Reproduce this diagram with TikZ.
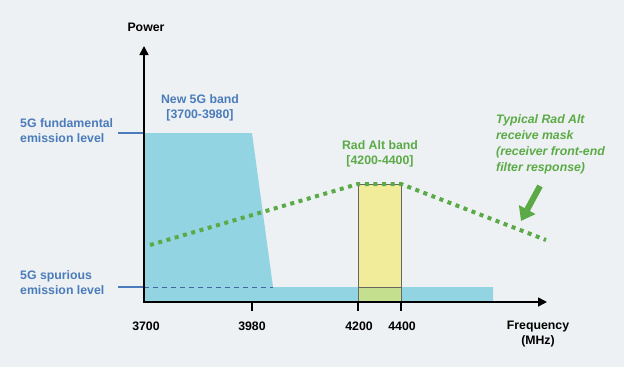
\documentclass[tikz,border=0pt]{standalone}
\usepackage{fontspec}
\setmainfont{Liberation Sans}
\usetikzlibrary{arrows.meta}
\definecolor{bggray}{HTML}{EEF1F3}
\definecolor{bandblue}{HTML}{93D4E3}
\definecolor{radyellow}{HTML}{F0EC9A}
\definecolor{overlapgreen}{HTML}{C4E08F}
\definecolor{labelblue}{HTML}{4A7BBA}
\definecolor{maskgreen}{HTML}{5BAA47}
\tikzset{
  bluelabel/.style={text=labelblue, align=left, anchor=west, inner sep=0pt},
  greenlabel/.style={text=maskgreen, align=center, inner sep=0pt},
  ticklabel/.style={inner sep=0pt},
  axis/.style={line width=1.6pt, -{Triangle[length=9pt,width=9pt]}},
  level/.style={labelblue, line width=1.6pt},
  mask/.style={maskgreen, line width=4pt, dash pattern=on 4pt off 4.6pt}
}
\begin{document}
\begin{tikzpicture}[x=1pt, y=-1pt, font=\bfseries\fontsize{12.3}{15.5}\selectfont]
  \fill[bggray] (0,0) rectangle (624,367);
  \useasboundingbox (0,0) rectangle (624,367);

  \coordinate (O) at (144,302);
  \coordinate (ytop) at (144,46);
  \coordinate (xend) at (547,302);
  \coordinate (fund) at (118,133);
  \coordinate (spur) at (118,287);

  % emission spectrum of the new 5G band
  \fill[bandblue] (144,133) -- (252,133) -- (273,287) -- (493,287) -- (493,302) -- (144,302) -- cycle;
  \draw[labelblue!85!black, line width=1pt, dash pattern=on 5pt off 4pt] (144,287) -- (273,287);

  % rad alt band
  \fill[radyellow] (358,184) rectangle (401,302);
  \fill[overlapgreen] (358,287) rectangle (401,302);
  \draw[gray!80!black, line width=0.6pt] (358,302) -- (358,184) -- (401,184) -- (401,302);
  \draw[gray!80!black, line width=0.6pt] (358,287) -- (401,287);

  % receive mask
  \coordinate (m1) at (150,245);
  \coordinate (m2) at (358,184);
  \coordinate (m3) at (401,184);
  \coordinate (m4) at (546,240);
  \draw[mask] (m1) -- (m2) -- (m3) -- (m4);

  \draw[level] (fund) -- (144,133);
  \draw[level] (spur) -- (144,287);

  \draw[axis] (O) -- (ytop);
  \draw[axis] (143.2,302) -- (xend);
  \foreach \x in {252,358,401}
    \draw[line width=1.6pt] (\x,302) -- (\x,311);

  \node (power) at (146,27) {Power};
  \node[ticklabel] (t3700) at (146,326) {3700};
  \node[ticklabel] (t3980) at (252,326) {3980};
  \node[ticklabel] (t4200) at (359,326) {4200};
  \node[ticklabel] (t4400) at (402,326) {4400};
  \node[align=center, inner sep=0pt] (freq) at (538,334) {Frequency\\(MHz)};

  \node[bluelabel] (fundlabel) at (20,130.5) {5G fundamental\\emission level};
  \node[bluelabel] (spurlabel) at (20,282.5) {5G spurious\\emission level};
  \node[bluelabel, align=center, anchor=center] (newband) at (200,108) {New 5G band\\{[3700-3980]}};
  \node[greenlabel] (radband) at (380,154) {Rad Alt band\\{[4200-4400]}};
  \node[greenlabel, align=left, anchor=west, font=\bfseries\itshape\fontsize{12.3}{15.8}\selectfont] (masklabel) at (496,144.5)
    {Typical Rad Alt\\receive mask\\(receiver front-end\\filter response)};

  \coordinate (arrtail) at (540,186);
  \coordinate (arrhead) at (521,221);
  \draw[maskgreen, line width=6pt, -{Triangle[length=13pt,width=18pt]}] (arrtail) -- (arrhead);
\end{tikzpicture}
\end{document}
